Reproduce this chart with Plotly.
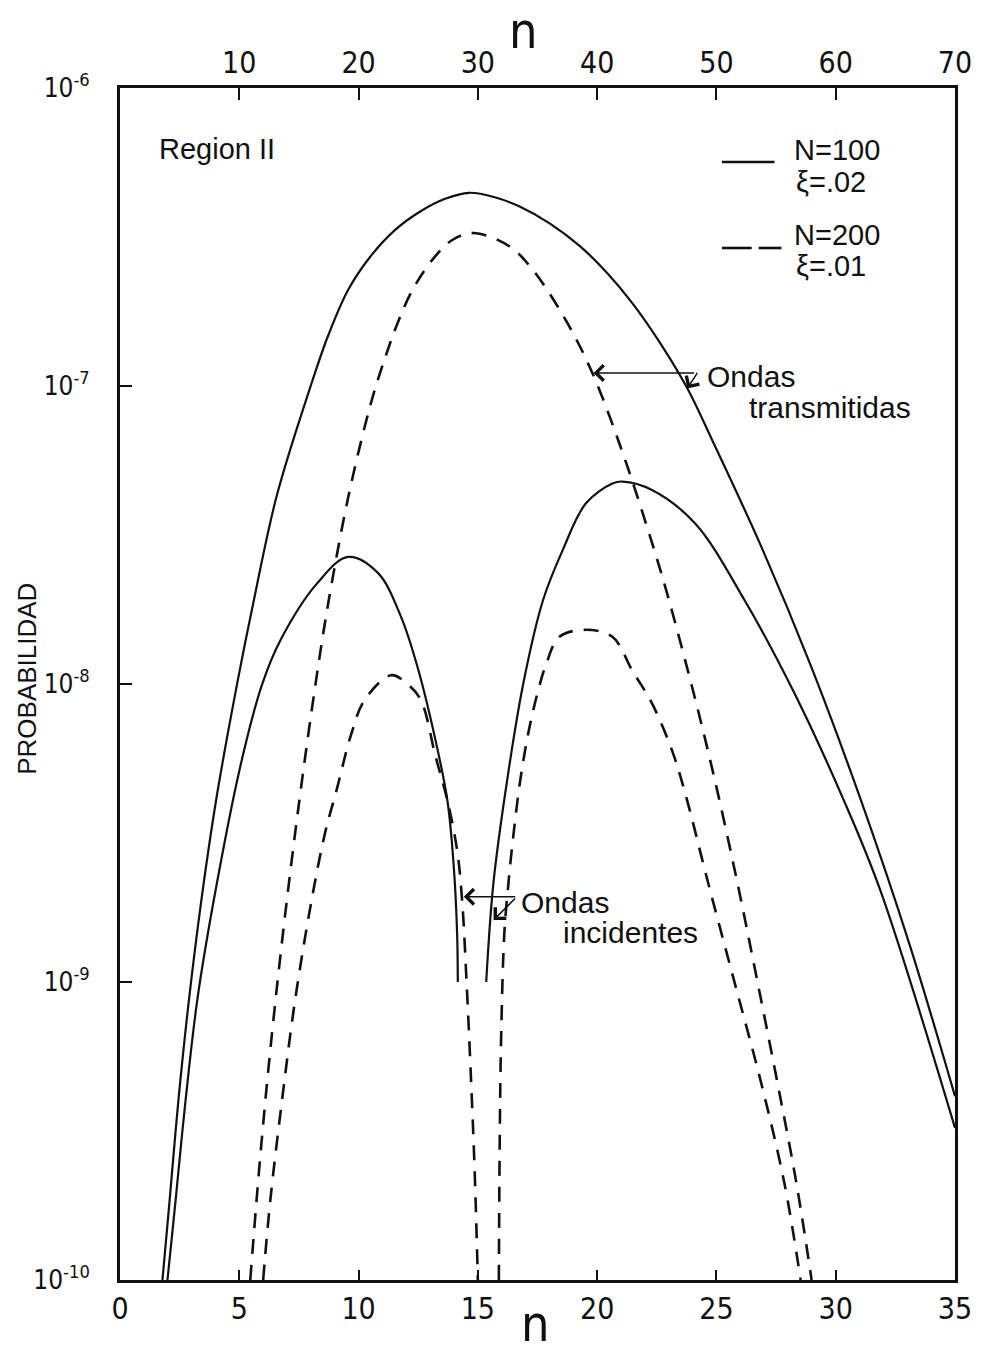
import plotly.graph_objects as go

# --- Transmitted waves -------------------------------------------------
# N = 100, xi = .02 (solid)
trans_100_n = [1.78, 2.08, 2.45, 2.89, 3.41, 4.03, 4.90, 5.61, 6.57, 7.98,
               8.73, 9.56, 10.48, 11.51, 12.6, 13.63, 14.63, 15.71, 16.75,
               18.04, 19.29, 20.41, 21.49, 22.65, 23.78, 24.8, 26.88, 28.96,
               31.03, 33.09, 35.0]
trans_100_p = [1.0e-10, 1.85e-10, 4.02e-10, 8.71e-10, 1.88e-9, 4.08e-9, 9.93e-9,
               1.91e-8, 4.28e-8, 9.93e-8, 1.48e-7, 2.10e-7, 2.71e-7, 3.33e-7,
               3.86e-7, 4.25e-7, 4.45e-7, 4.30e-7, 4.0e-7, 3.50e-7, 2.94e-7,
               2.40e-7, 1.89e-7, 1.39e-7, 9.82e-8, 6.64e-8, 2.89e-8, 1.15e-8,
               4.13e-9, 1.34e-9, 4.14e-10]

# N = 200, xi = .01 (dashed)
trans_200_n = [5.46, 5.84, 6.30, 6.87, 7.52, 8.19, 8.75, 9.58, 10.52, 11.18,
               11.68, 12.26, 13.09, 13.93, 14.84, 16.33, 17.31, 18.69, 19.79,
               21.05, 22.09, 22.89, 24.12, 24.96, 25.88, 26.73, 27.56, 28.35,
               28.99]
trans_200_p = [1.0e-10, 2.39e-10, 5.92e-10, 1.55e-9, 4.08e-9, 9.93e-9, 1.91e-8,
               4.28e-8, 8.77e-8, 1.29e-7, 1.66e-7, 2.10e-7, 2.65e-7, 3.09e-7,
               3.26e-7, 2.94e-7, 2.45e-7, 1.66e-7, 1.11e-7, 6.03e-8, 3.37e-8,
               2.07e-8, 8.83e-9, 4.66e-9, 2.15e-9, 9.93e-10, 4.58e-10, 2.12e-10,
               1.0e-10]

# --- Incident waves ----------------------------------------------------
# N = 100 (solid), two lobes
inc_100_left_n = [1.99, 2.33, 2.75, 3.24, 3.93, 5.04, 5.95, 6.74, 8.27, 9.56,
                  10.81, 11.78, 12.47, 13.16, 13.72, 13.99, 14.13, 14.16]
inc_100_left_p = [1.0e-10, 1.85e-10, 4.02e-10, 8.71e-10, 1.88e-9, 5.28e-9,
                  9.93e-9, 1.41e-8, 2.18e-8, 2.67e-8, 2.36e-8, 1.68e-8, 1.14e-8,
                  6.83e-9, 4.08e-9, 2.44e-9, 1.46e-9, 1.0e-9]
inc_100_right_n = [15.35, 15.65, 16.21, 16.9, 17.73, 18.56, 19.53, 20.64, 21.06,
                   22.3, 24.1, 26.18, 28.26, 30.34, 31.86, 35.0]
inc_100_right_p = [1.0e-9, 2.14e-9, 4.65e-9, 1.0e-8, 1.91e-8, 2.82e-8, 4.04e-8,
                   4.71e-8, 4.78e-8, 4.48e-8, 3.46e-8, 1.91e-8, 9.35e-9, 4.07e-9,
                   2.04e-9, 3.24e-10]

# N = 200 (dashed), two lobes
inc_200_left_n = [6.0, 6.30, 6.79, 7.34, 8.03, 8.59, 9.08, 9.70, 10.25, 11.36,
                  12.05, 12.61, 13.23, 13.72, 14.13, 14.34, 14.53, 14.69, 14.86,
                  15.0]
inc_200_left_p = [1.0e-10, 1.85e-10, 4.0e-10, 8.7e-10, 1.88e-9, 3.15e-9, 4.41e-9,
                  6.82e-9, 8.83e-9, 1.07e-8, 1.0e-8, 8.83e-9, 5.70e-9, 4.08e-9,
                  2.77e-9, 1.88e-9, 9.9e-10, 5.2e-10, 2.4e-10, 1.0e-10]
inc_200_right_n = [15.88, 15.92, 15.98, 16.11, 16.28, 16.42, 16.76, 17.11, 17.46,
                   17.87, 18.42, 19.53, 20.64, 21.47, 22.3, 23.13, 23.69, 24.66,
                   25.77, 26.88, 27.85, 28.53]
inc_200_right_p = [1.0e-10, 3.16e-10, 6.76e-10, 1.46e-9, 2.14e-9, 2.77e-9, 4.65e-9,
                   6.82e-9, 9.06e-9, 1.17e-8, 1.44e-8, 1.52e-8, 1.44e-8, 1.11e-8,
                   8.61e-9, 6.01e-9, 4.30e-9, 2.14e-9, 9.9e-10, 4.57e-10,
                   2.11e-10, 1.0e-10]

# --- Axis ticks -----------------------------------------------------------
bottom_ticks = [0, 5, 10, 15, 20, 25, 30, 35]
top_ticks = [10, 20, 30, 40, 50, 60, 70]
y_tickvals = [1e-10, 1e-9, 1e-8, 1e-7, 1e-6]
y_ticktext = ["10<sup>-10</sup>", "10<sup>-9</sup>", "10<sup>-8</sup>",
              "10<sup>-7</sup>", "10<sup>-6</sup>"]

NARROW = "Liberation Sans Narrow, Arial Narrow, DejaVu Sans Condensed, sans-serif"
SANS = "Liberation Sans, Arial, DejaVu Sans, sans-serif"
INK = "#111111"
DASH = "15px,11px"

fig = go.Figure()

curves = [
    (trans_100_n, trans_100_p, "solid"),
    (trans_200_n, trans_200_p, DASH),
    (inc_100_left_n, inc_100_left_p, "solid"),
    (inc_100_right_n, inc_100_right_p, "solid"),
    (inc_200_left_n, inc_200_left_p, DASH),
    (inc_200_right_n, inc_200_right_p, DASH),
]
for xs, ys, dash in curves:
    fig.add_trace(go.Scatter(
        x=xs, y=ys, mode="lines",
        line=dict(color=INK, width=2.2 if dash == "solid" else 2.6,
                  dash=dash, shape="spline", smoothing=1.0),
        hoverinfo="skip", showlegend=False,
    ))

# carrier for the upper n axis
fig.add_trace(go.Scatter(
    x=[0, 70], y=[1e-10, 1e-10], xaxis="x2", mode="markers",
    marker=dict(opacity=0), hoverinfo="skip", showlegend=False,
))

W, H = 984, 1355
L, R, T, B = 120, 22, 88, 75
PW, PH = W - L - R, H - T - B


def px(x):
    return (x - L) / PW


def py(y):
    return (H - B - y) / PH


fig.update_layout(
    width=W, height=H,
    margin=dict(l=L, r=R, t=T, b=B),
    paper_bgcolor="white", plot_bgcolor="white",
    showlegend=False,
    xaxis=dict(
        range=[0, 35], tickvals=bottom_ticks, ticks="inside", ticklen=10,
        tickwidth=2, tickcolor=INK, showline=True, linewidth=3,
        linecolor=INK, mirror=True, showgrid=False, zeroline=False,
        tickfont=dict(family=NARROW, size=30, color=INK),
    ),
    xaxis2=dict(
        range=[0, 70], tickvals=top_ticks, overlaying="x", side="top",
        anchor="y", ticks="inside", ticklen=12, tickwidth=2, tickcolor=INK,
        showline=False, showgrid=False, zeroline=False, ticklabelstandoff=8,
        tickfont=dict(family=NARROW, size=30, color=INK),
    ),
    yaxis=dict(
        type="log", range=[-10, -6], tickvals=y_tickvals, ticktext=y_ticktext,
        ticks="inside", ticklen=12, tickwidth=2, tickcolor=INK,
        showline=True, linewidth=3, linecolor=INK, mirror=True,
        showgrid=False, zeroline=False, ticklabelstandoff=22,
        tickfont=dict(family=NARROW, size=26, color=INK),
    ),
)

annotations = [
    dict(text="n", x=px(539), y=-(B / PH), yanchor="bottom",
         font=dict(family=NARROW, size=50)),
    dict(text="n", x=px(527), y=1 + T / PH, yanchor="top",
         font=dict(family=NARROW, size=50)),
    dict(text="PROBABILIDAD", x=px(26), y=py(679), textangle=-90,
         font=dict(family=SANS, size=26)),
    dict(text="Region II", x=px(157), y=py(149), xanchor="left",
         font=dict(family=SANS, size=29)),
    dict(text="N=100", x=px(798), y=py(150), xanchor="left",
         font=dict(family=SANS, size=29)),
    dict(text="ξ=.02", x=px(800), y=py(182), xanchor="left",
         font=dict(family=SANS, size=29)),
    dict(text="N=200", x=px(798), y=py(235), xanchor="left",
         font=dict(family=SANS, size=29)),
    dict(text="ξ=.01", x=px(800), y=py(266), xanchor="left",
         font=dict(family=SANS, size=29)),
    dict(text="Ondas", x=px(710), y=py(376), xanchor="left",
         font=dict(family=SANS, size=30)),
    dict(text="transmitidas", x=px(752), y=py(408), xanchor="left",
         font=dict(family=SANS, size=30)),
    dict(text="Ondas", x=px(522), y=py(902), xanchor="left",
         font=dict(family=SANS, size=30)),
    dict(text="incidentes", x=px(565), y=py(932), xanchor="left",
         font=dict(family=SANS, size=30)),
]
for a in annotations:
    a.setdefault("xanchor", "center")
    a.setdefault("yanchor", "middle")
    a.update(xref="paper", yref="paper", showarrow=False)
    a["font"]["color"] = INK
    fig.add_annotation(**a)

# pointer arrows (tips in data coordinates, tails offset in pixels)
arrows = [
    (19.85, -6.956, 102, 0),
    (23.78, -7.008, 11, -17),
    (14.41, -8.714, 53, 0),
    (15.66, -8.792, 23, -23),
]
for x, ylog, ax, ay in arrows:
    fig.add_annotation(x=x, y=ylog, xref="x", yref="y", ax=ax, ay=ay,
                       text="", showarrow=True, arrowhead=4, arrowsize=2.0,
                       arrowwidth=1.5, arrowcolor=INK)

# legend keys
fig.add_shape(type="line", xref="paper", yref="paper",
              x0=px(727), x1=px(780), y0=py(162), y1=py(162),
              line=dict(color=INK, width=2.4))
for x0, x1 in [(727, 757), (764, 787)]:
    fig.add_shape(type="line", xref="paper", yref="paper",
                  x0=px(x0), x1=px(x1), y0=py(248), y1=py(248),
                  line=dict(color=INK, width=2.6))

fig.write_html("out.html")
